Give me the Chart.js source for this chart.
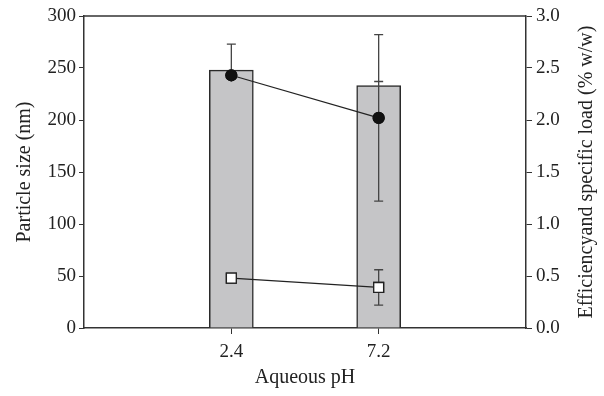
<!DOCTYPE html>
<html>
<head>
<meta charset="utf-8">
<script src="https://cdn.jsdelivr.net/npm/chart.js@4/dist/chart.umd.min.js"></script>
<style>
  html, body { margin: 0; padding: 0; background: #fff; }
  #wrap { width: 604px; height: 396px; }
</style>
</head>
<body>
<div id="wrap"><canvas id="chart"></canvas></div>
<script>
// Data
//-----------------------------------------------------------------------------

// blank slots at both ends keep 2.4 / 7.2 at 1/3 and 2/3 of the axis
var phLabels = ['', '2.4', '7.2', ''];

var particleSize = [null, 248, 233, null];      // nm, left axis
var particleSizeErr = [null, 25, 4, null];      // only the upper whisker shows

var efficiency = [null, 2.43, 2.02, null];      // % w/w, right axis
var efficiencyErr = [null, 0, 0.80, null];

var specificLoad = [null, 0.48, 0.39, null];    // % w/w, right axis
var specificLoadErr = [null, 0, 0.17, null];

var leftTicks = [0, 50, 100, 150, 200, 250, 300];
var rightTicks = [0, 0.5, 1.0, 1.5, 2.0, 2.5, 3.0];

var rightTitle = 'Efficiencyand specific load (% w/w)';

var FONT = 'Liberation Serif, Times New Roman, serif';
var INK = '#333';
var TEXT = '#222';

// Error bars, closing frame line, right-hand title
//-----------------------------------------------------------------------------

function whisker(ctx, px, from, to) {
  ctx.moveTo(px, from); ctx.lineTo(px, to);
  ctx.moveTo(px - 4.5, to); ctx.lineTo(px + 4.5, to);
}

var extras = {
  id: 'extras',
  afterDatasetsDraw: function(chart) {
    var ctx = chart.ctx,
        x = chart.scales.x,
        yL = chart.scales.yL,
        yR = chart.scales.yR;

    ctx.save();
    ctx.strokeStyle = '#444';
    ctx.lineWidth = 1.3;
    ctx.beginPath();
    // bars: upper whisker only (lower half hidden by the bar)
    particleSize.forEach(function(v, i) {
      if (v === null || !particleSizeErr[i]) return;
      whisker(ctx, x.getPixelForValue(i), yL.getPixelForValue(v), yL.getPixelForValue(v + particleSizeErr[i]));
    });
    // line series: both whiskers
    [[efficiency, efficiencyErr], [specificLoad, specificLoadErr]].forEach(function(s) {
      s[0].forEach(function(v, i) {
        if (v === null || !s[1][i]) return;
        var px = x.getPixelForValue(i), mid = yR.getPixelForValue(v);
        whisker(ctx, px, mid, yR.getPixelForValue(v + s[1][i]));
        whisker(ctx, px, mid, yR.getPixelForValue(v - s[1][i]));
      });
    });
    ctx.stroke();
    ctx.restore();

    // redraw markers over the error lines
    [1, 2].forEach(function(di) {
      chart.getDatasetMeta(di).data.forEach(function(pt) {
        if (!pt.skip) pt.draw(ctx);
      });
    });
  },
  afterDraw: function(chart) {
    var a = chart.chartArea, ctx = chart.ctx;
    ctx.save();
    ctx.strokeStyle = INK;
    ctx.lineWidth = 1.5;
    ctx.beginPath();
    ctx.moveTo(a.left, a.top);
    ctx.lineTo(a.right, a.top);
    ctx.stroke();

    // Chart.js turns a right title the other way; this one reads bottom-up
    ctx.translate(587, (a.top + a.bottom) / 2);
    ctx.rotate(-Math.PI / 2);
    ctx.fillStyle = TEXT;
    ctx.font = '20px ' + FONT;
    ctx.textAlign = 'center';
    ctx.textBaseline = 'middle';
    ctx.fillText(rightTitle, 0, 0);
    ctx.restore();
  }
};

// Chart
//-----------------------------------------------------------------------------

function edgeTickColor(c) {
  // no tick marks for the blank padding categories
  return (c.tick && c.tick.label === '') ? 'rgba(0,0,0,0)' : INK;
}

new Chart(document.getElementById('chart'), {
  type: 'bar',
  data: {
    labels: phLabels,
    datasets: [
      {
        type: 'bar',
        data: particleSize,
        yAxisID: 'yL',
        backgroundColor: '#c5c5c7',
        borderColor: '#2a2a2a',
        borderWidth: 1.5,
        barThickness: 44,
        order: 3
      },
      {
        type: 'line',
        data: efficiency,
        yAxisID: 'yR',
        borderColor: '#222',
        borderWidth: 1.2,
        pointStyle: 'circle',
        pointRadius: 5.5,
        pointBackgroundColor: '#111',
        pointBorderColor: '#111',
        order: 1
      },
      {
        type: 'line',
        data: specificLoad,
        yAxisID: 'yR',
        borderColor: '#222',
        borderWidth: 1.2,
        pointStyle: 'rect',
        pointRadius: 7,
        pointBorderWidth: 1.3,
        pointBackgroundColor: '#fff',
        pointBorderColor: '#222',
        order: 2
      }
    ]
  },
  options: {
    responsive: true,
    maintainAspectRatio: false,
    animation: false,
    layout: { padding: { top: 16, left: 0, right: 0, bottom: 0 } },
    plugins: { legend: { display: false }, tooltip: { enabled: false } },
    scales: {
      x: {
        offset: false,
        grid: {
          offset: false,
          drawOnChartArea: false,
          tickLength: 6,
          tickColor: edgeTickColor,
          color: edgeTickColor
        },
        border: { color: INK, width: 1.5 },
        ticks: { color: TEXT, font: { family: FONT, size: 19 }, padding: 7, maxRotation: 0 },
        title: { display: true, text: 'Aqueous pH', color: TEXT, font: { family: FONT, size: 20 }, padding: { top: 0, bottom: 6 } },
        afterFit: function(s) { s.height = 68; }
      },
      yL: {
        position: 'left',
        min: 0, max: 300,
        afterBuildTicks: function(s) { s.ticks = leftTicks.map(function(v) { return { value: v }; }); },
        grid: { drawOnChartArea: false, tickLength: 5, color: INK },
        border: { color: INK, width: 1.5 },
        ticks: { color: TEXT, font: { family: FONT, size: 19 }, padding: 3 },
        title: { display: true, text: 'Particle size (nm)', color: TEXT, font: { family: FONT, size: 20 }, padding: { top: 13, bottom: 4 } },
        afterFit: function(s) { s.width = 84; }
      },
      yR: {
        position: 'right',
        min: 0, max: 3,
        afterBuildTicks: function(s) { s.ticks = rightTicks.map(function(v) { return { value: v }; }); },
        grid: { drawOnChartArea: false, tickLength: 6, color: INK },
        border: { color: INK, width: 1.5 },
        ticks: {
          color: TEXT, font: { family: FONT, size: 19 }, padding: 4,
          callback: function(v) { return Number(v).toFixed(1); }
        },
        afterFit: function(s) { s.width = 78; }
      }
    }
  },
  plugins: [extras]
});
</script>
</body>
</html>
